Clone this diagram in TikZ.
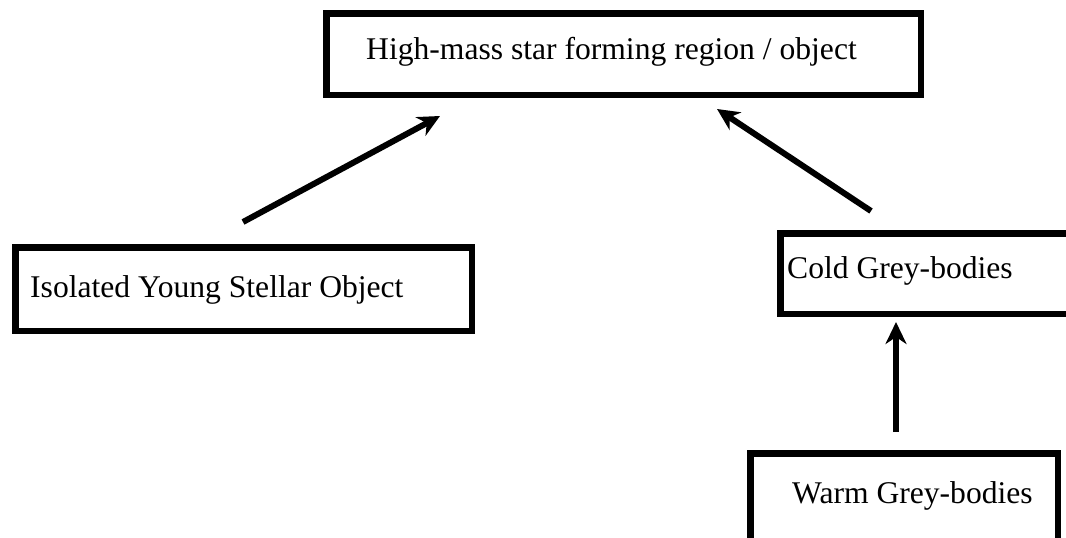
\documentclass[tikz,border=0pt]{standalone}
\usepackage{fontspec}
\setmainfont{Liberation Serif}
\usetikzlibrary{arrows.meta}
\begin{document}
\begin{tikzpicture}[x=1pt,y=-1pt,
  boxshape/.style={draw=black,line width=6.5pt,inner sep=0pt,anchor=north west},
  lbl/.style={inner sep=0pt,anchor=base west,font=\fontsize{31.6}{38}\selectfont},
  conn/.style={line width=6pt,-{Stealth[length=22pt,width=21pt,inset=7pt]}}]
\useasboundingbox (0,0) rectangle (1066,538);
\clip (0,0) rectangle (1066,538);
% boxes
\node[boxshape,minimum width=594.5pt,minimum height=81.5pt] (top) at (323.25,10.25) {};
\node[boxshape,minimum width=456.5pt,minimum height=83.5pt] (yso) at (12.25,244.25) {};
\node[boxshape,minimum width=300pt,minimum height=80.5pt] (cold) at (777.25,230.25) {};
\node[boxshape,minimum width=307.5pt,minimum height=120pt] (warm) at (747.25,450.25) {};
% labels
\node[lbl] (ttop) at (366,59) {High-mass star forming region / object};
\node[lbl] (tyso) at (30,297) {Isolated Young Stellar Object};
\node[lbl] (tcold) at (787,278) {Cold Grey-bodies};
\node[lbl] (twarm) at (792,503) {Warm Grey-bodies};
% arrow ends
\coordinate (a1s) at (243,222);
\coordinate (a1e) at (440,116);
\coordinate (a2s) at (871,211);
\coordinate (a2e) at (717,109);
\coordinate (a3s) at (896,432);
\coordinate (a3e) at (896,322);
\draw[conn] (a1s) -- (a1e);
\draw[conn] (a2s) -- (a2e);
\draw[conn] (a3s) -- (a3e);
\end{tikzpicture}
\end{document}
